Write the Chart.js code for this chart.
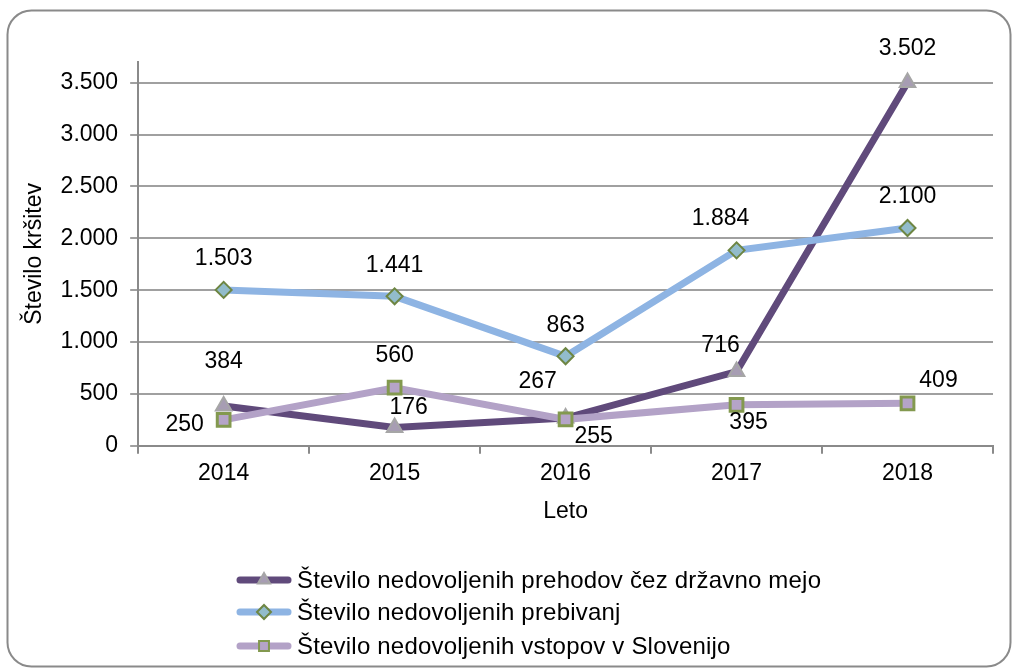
<!DOCTYPE html>
<html>
<head>
<meta charset="utf-8">
<script src="https://cdn.jsdelivr.net/npm/chart.js@4"></script>
<style>
html,body{margin:0;padding:0;background:#fff;}
#wrap{position:relative;width:1018px;height:671px;}
</style>
</head>
<body>
<div id="wrap"><canvas id="c" width="1018" height="671"></canvas></div>
<script>
const categories = ['2014', '2015', '2016', '2017', '2018'];
const prehodi = [384, 176, 267, 716, 3502];
const prebivanja = [1503, 1441, 863, 1884, 2100];
const vstopi = [250, 560, 255, 395, 409];
const seriesNames = [
  'Število nedovoljenih prehodov čez državno mejo',
  'Število nedovoljenih prebivanj',
  'Število nedovoljenih vstopov v Slovenijo'
];
const yTicks = [0, 500, 1000, 1500, 2000, 2500, 3000, 3500];

// label offsets (style only)
const labelOffsets = [
  [[0,-44],[14,-20],[-28,-36],[-16,-26],[0,-34]],
  [[0,-31],[0,-31],[0,-31],[-16,-32],[0,-31]],
  [[-39,5],[0,-32],[28,17],[12,18],[31,-23]]
];
const FONT = '"Liberation Sans", Arial, sans-serif';
const FS = 23;

function fmt(v){ return v.toString().replace(/\B(?=(\d{3})+(?!\d))/g, '.'); }

const frame = {
  id: 'frame',
  beforeDraw(chart){
    const ctx = chart.ctx;
    ctx.save();
    ctx.fillStyle = '#fff';
    ctx.fillRect(0,0,chart.width,chart.height);
    ctx.strokeStyle = '#8a8a8a';
    ctx.lineWidth = 2;
    ctx.beginPath();
    ctx.roundRect(7.5, 10.5, 1003, 656, 24);
    ctx.stroke();
    ctx.restore();
  }
};

const labels = {
  id: 'labels',
  afterDatasetsDraw(chart){
    const ctx = chart.ctx;
    ctx.save();
    ctx.font = FS + 'px ' + FONT;
    ctx.fillStyle = '#000';
    ctx.textAlign = 'center';
    ctx.textBaseline = 'middle';
    chart.data.datasets.forEach((ds, i) => {
      const meta = chart.getDatasetMeta(i);
      meta.data.forEach((pt, j) => {
        const o = labelOffsets[i][j];
        ctx.fillText(fmt(ds.data[j]), pt.x + o[0], pt.y + o[1]);
      });
    });
    ctx.restore();
  }
};

const legend = {
  id: 'customLegend',
  afterDraw(chart){
    const ctx = chart.ctx;
    ctx.save();
    const ys = [580, 612, 646];
    chart.data.datasets.forEach((ds, i) => {
      const y = ys[i];
      ctx.strokeStyle = ds.borderColor;
      ctx.lineWidth = 7;
      ctx.lineCap = 'round';
      ctx.beginPath();
      ctx.moveTo(240, y); ctx.lineTo(288, y); ctx.stroke();
      ctx.fillStyle = ds.pointBackgroundColor;
      ctx.strokeStyle = ds.pointBorderColor;
      ctx.lineWidth = 2;
      ctx.lineCap = 'butt';
      Chart.helpers.drawPoint(ctx, {pointStyle: ds.pointStyle, radius: 7, borderWidth: 2, rotation: 0}, 264, y);
      ctx.fillStyle = '#000';
      ctx.font = '24px ' + FONT;
      ctx.letterSpacing = '0.2px';
      ctx.textAlign = 'left';
      ctx.textBaseline = 'middle';
      ctx.fillText(seriesNames[i], 297, y + 1);
      ctx.letterSpacing = '0px';
    });
    ctx.restore();
  }
};

new Chart(document.getElementById('c'), {
  type: 'line',
  data: {
    labels: categories,
    datasets: [
      {
        label: seriesNames[0], data: prehodi, order: 3,
        borderColor: '#604A7B', borderWidth: 7,
        pointStyle: 'triangle', pointRadius: 9, pointBorderWidth: 2,
        pointBackgroundColor: '#A79DB3', pointBorderColor: '#A6A6A6'
      },
      {
        label: seriesNames[1], data: prebivanja, order: 2,
        borderColor: '#8EB4E3', borderWidth: 7,
        pointStyle: 'rectRot', pointRadius: 8, pointBorderWidth: 2,
        pointBackgroundColor: '#92BCCB', pointBorderColor: '#6E8643'
      },
      {
        label: seriesNames[2], data: vstopi, order: 1,
        borderColor: '#B3A2C7', borderWidth: 7,
        pointStyle: 'rect', pointRadius: 9, pointBorderWidth: 3,
        pointBackgroundColor: '#B5A4C8', pointBorderColor: '#83994F'
      }
    ]
  },
  options: {
    responsive: false,
    animation: false,
    devicePixelRatio: 1,
    layout: { padding: { left: 17, right: 25, top: 62, bottom: 142 } },
    plugins: { legend: { display: false }, tooltip: { enabled: false } },
    elements: { line: { tension: 0 } },
    scales: {
      x: {
        offset: true,
        grid: { drawOnChartArea: false, drawTicks: true, tickLength: 8, color: '#8a8a8a', lineWidth: 2, offset: true },
        border: { color: '#8a8a8a', width: 2 },
        ticks: { color: '#000', font: { family: FONT, size: FS }, padding: 6 },
        title: { display: true, text: 'Leto', color: '#000', font: { family: FONT, size: FS }, padding: { top: 4 } }
      },
      y: {
        min: 0, max: 3700,
        afterBuildTicks(axis){ axis.ticks = yTicks.map(v => ({ value: v })); },
        grid: { color: '#a0a0a0', lineWidth: 2, tickLength: 8 },
        border: { color: '#8a8a8a', width: 2 },
        ticks: { color: '#000', font: { family: FONT, size: FS }, padding: 12, callback: v => fmt(v) },
        title: { display: true, text: 'Število kršitev', color: '#000', font: { family: FONT, size: FS }, padding: { bottom: 0 } }
      }
    }
  },
  plugins: [frame, labels, legend]
});
</script>
</body>
</html>
